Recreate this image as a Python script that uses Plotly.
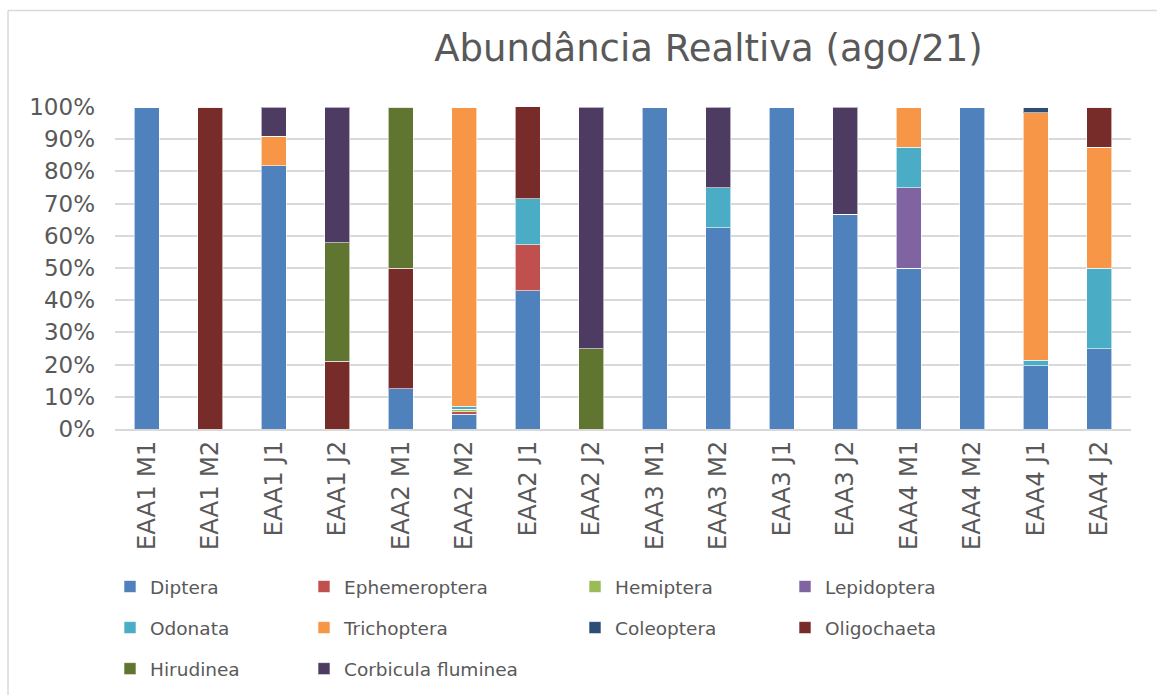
import plotly.graph_objects as go

categories = ["EAA1 M1", "EAA1 M2", "EAA1 J1", "EAA1 J2", "EAA2 M1", "EAA2 M2", "EAA2 J1", "EAA2 J2",
              "EAA3 M1", "EAA3 M2", "EAA3 J1", "EAA3 J2", "EAA4 M1", "EAA4 M2", "EAA4 J1", "EAA4 J2"]

diptera       = [100, 0, 81.8, 0, 12.5, 4.65, 42.9, 0, 100, 62.5, 100, 66.7, 50, 100, 19.6, 25]
ephemeroptera = [0, 0, 0, 0, 0, 0.78, 14.3, 0, 0, 0, 0, 0, 0, 0, 0, 0]
hemiptera     = [0, 0, 0, 0, 0, 0.78, 0, 0, 0, 0, 0, 0, 0, 0, 0, 0]
lepidoptera   = [0, 0, 0, 0, 0, 0, 0, 0, 0, 0, 0, 0, 25, 0, 0, 0]
odonata       = [0, 0, 0, 0, 0, 0.78, 14.3, 0, 0, 12.5, 0, 0, 12.5, 0, 1.8, 25]
trichoptera   = [0, 0, 9.1, 0, 0, 93.0, 0, 0, 0, 0, 0, 0, 12.5, 0, 76.8, 37.5]
coleoptera    = [0, 0, 0, 0, 0, 0, 0, 0, 0, 0, 0, 0, 0, 0, 1.8, 0]
oligochaeta   = [0, 100, 0, 21.05, 37.5, 0, 28.6, 0, 0, 0, 0, 0, 0, 0, 0, 12.5]
hirudinea     = [0, 0, 0, 36.85, 50, 0, 0, 25, 0, 0, 0, 0, 0, 0, 0, 0]
corbicula     = [0, 0, 9.1, 42.1, 0, 0, 0, 75, 0, 25, 0, 33.3, 0, 0, 0, 0]

series_names = ["Diptera", "Ephemeroptera", "Hemiptera", "Lepidoptera", "Odonata",
                "Trichoptera", "Coleoptera", "Oligochaeta", "Hirudinea", "Corbicula fluminea"]
series_values = [diptera, ephemeroptera, hemiptera, lepidoptera, odonata,
                 trichoptera, coleoptera, oligochaeta, hirudinea, corbicula]
series_colors = ["#4F81BD", "#C0504D", "#9BBB59", "#8064A2", "#4BACC6",
                 "#F79646", "#2C4D75", "#772C2A", "#5F7530", "#4D3B62"]

# legend laid out in 4 columns (row-major order like the original)
legend_ids = ["legend", "legend2", "legend3", "legend4"]

fig = go.Figure()
for i, (name, vals, color) in enumerate(zip(series_names, series_values, series_colors)):
    fig.add_trace(go.Bar(
        x=categories, y=vals, name=name,
        legend=legend_ids[i % 4], legendgroup=name,
        marker=dict(color=color, line=dict(color="rgba(255,255,255,0.6)", width=1)),
    ))

gray = "#595959"
W, H = 1157, 695
col_left_px = [110, 304, 575, 785]
legend_top_px = 568
legend_common = dict(orientation="v", xref="container", yref="container",
                     xanchor="left", yanchor="top",
                     font=dict(size=18.5, color=gray), tracegroupgap=14,
                     itemclick=False, bgcolor="rgba(0,0,0,0)")
legends = {}
for k, lid in enumerate(legend_ids):
    legends[lid] = dict(legend_common, x=col_left_px[k] / W, y=1 - legend_top_px / H)

fig.update_layout(
    width=W, height=H,
    barmode="stack", bargap=0.6,
    paper_bgcolor="white", plot_bgcolor="white",
    font=dict(family="DejaVu Sans", color=gray),
    margin=dict(l=115, r=26, t=107, b=266, autoexpand=False),
    title=dict(text="Abundância Realtiva (ago/21)", x=0.6124, xanchor="center",
               y=0.931, yanchor="middle", font=dict(size=37, color=gray)),
    xaxis=dict(tickangle=-90, tickfont=dict(size=24.5, color=gray), showline=True,
               linecolor="#d9d9d9", linewidth=1.5, ticks="", showgrid=False),
    yaxis=dict(range=[0, 100], dtick=10, ticksuffix="%", tickfont=dict(size=23, color=gray),
               showgrid=True, gridcolor="#d9d9d9", gridwidth=1.5, zeroline=False, ticks="",
               ticklabelstandoff=19),
    showlegend=True,
    **legends,
)
# chart-area border (top and left edges visible)
border = dict(color="#d9d9d9", width=1.5)
fig.add_shape(type="line", xref="paper", yref="paper", x0=-0.1053, x1=1.0256, y0=1.2997, y1=1.2997, line=border)
fig.add_shape(type="line", xref="paper", yref="paper", x0=-0.1053, x1=-0.1053, y0=1.2997, y1=-0.83, line=border)
fig.write_html("out.html", config={"displayModeBar": False},
               post_script="document.body.style.margin='0';")
